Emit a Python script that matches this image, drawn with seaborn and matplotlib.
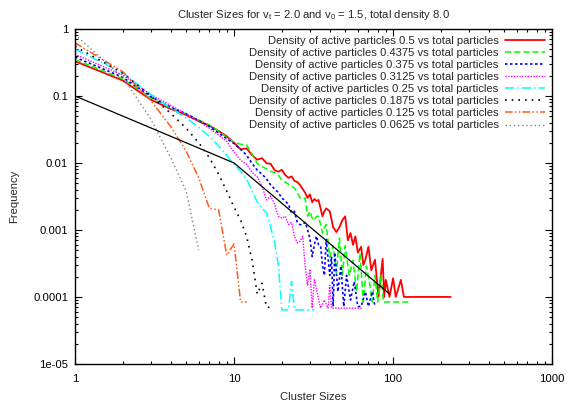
import matplotlib
matplotlib.use('Agg')
import matplotlib.pyplot as plt
import seaborn as sns
from matplotlib.ticker import FixedLocator, FixedFormatter, LogLocator, NullFormatter

# cluster size distributions, one per density of active particles
red_x = [1, 2, 3, 4, 5, 6, 7, 8, 9, 10,
         11, 12, 13, 14, 15, 16, 17, 18, 19, 20,
         21, 22, 23, 24, 25, 26, 27, 28, 29, 30,
         31, 32, 33, 34, 35, 36, 37, 38, 40, 42,
         44, 46, 48, 50, 52, 54, 56, 58, 60, 63,
         65, 67, 70, 73, 77, 81, 86, 88, 90, 95,
         100, 104, 112, 117, 230]
red_y = [0.33, 0.17, 0.088, 0.064, 0.052, 0.042, 0.036, 0.03, 0.025, 0.02,
         0.016, 0.0165, 0.013, 0.0112, 0.0118, 0.0099, 0.0097, 0.0078, 0.0074, 0.0079,
         0.0066, 0.006, 0.0063, 0.0054, 0.0052, 0.0047, 0.0041, 0.0036, 0.003, 0.0034,
         0.0026, 0.0029, 0.0027, 0.0028, 0.0021, 0.0016, 0.0019, 0.0021, 0.0019, 0.0011,
         0.00093, 0.0011, 0.0014, 0.0016, 0.0007, 0.0009, 0.0006, 0.0008, 0.00046, 0.00056,
         0.0003, 0.00036, 0.00056, 0.00025, 0.00036, 0.0001, 0.00037, 0.0001, 0.00018, 0.0001,
         0.00019, 0.0001, 0.00018, 0.0001, 0.0001]

green_x = [1, 2, 3, 4, 5, 6, 7, 8, 9, 10,
           11, 12, 13, 14, 15, 16, 17, 18, 19, 20,
           21, 22, 23, 24, 25, 26, 27, 28, 29, 30,
           31, 32, 33, 34, 35, 36, 37, 38, 40, 42,
           44, 46, 48, 50, 53, 56, 59, 62, 65, 68,
           71, 74, 77, 80, 84, 87, 130]
green_y = [0.35, 0.18, 0.094, 0.066, 0.054, 0.044, 0.037, 0.03, 0.024, 0.0205,
           0.019, 0.0185, 0.0135, 0.0098, 0.0088, 0.0082, 0.0075, 0.0072, 0.0066, 0.0055,
           0.0052, 0.0048, 0.0045, 0.0042, 0.0036, 0.003, 0.0029, 0.003, 0.0016, 0.0019,
           0.0015, 0.0014, 0.0016, 0.0016, 0.0012, 0.0009, 0.0011, 0.0012, 0.00039, 0.00058,
           0.00023, 0.00075, 0.00021, 0.00058, 0.00021, 0.00035, 0.00012, 0.00045, 0.000084, 0.00029,
           0.00017, 0.000084, 0.00021, 0.000084, 0.00021, 0.000084, 0.000084]

blue_x = [1, 2, 3, 4, 5, 6, 7, 8, 9, 10,
          11, 12, 13, 14, 15, 16, 17, 18, 19, 20,
          21, 22, 23, 24, 25, 26, 27, 28, 29, 30,
          31, 32, 33, 34, 35, 36, 37, 38, 40, 41,
          42, 43, 45, 47, 49, 51, 54, 57, 60, 63,
          67, 70, 74, 77]
blue_y = [0.38, 0.19, 0.098, 0.068, 0.054, 0.043, 0.035, 0.028, 0.023, 0.0195,
          0.016, 0.013, 0.0098, 0.0078, 0.0068, 0.0058, 0.0047, 0.0041, 0.0036, 0.003,
          0.0027, 0.0024, 0.0018, 0.0019, 0.0013, 0.0012, 0.0012, 0.0013, 0.001, 0.00075,
          0.0004, 0.0006, 0.00081, 0.0006, 0.00058, 0.0003, 0.00021, 0.00072, 0.00021, 0.0004,
          0.000072, 0.00046, 0.00012, 0.00029, 0.000072, 0.00021, 0.00009, 0.00017, 0.000072, 0.000072,
          0.00012, 0.000072, 0.00012, 0.000072]

magenta_x = [1, 2, 3, 4, 5, 6, 7, 8, 9, 10,
             11, 12, 13, 14, 15, 16, 17, 18, 19, 20,
             21, 22, 23, 24, 25, 26, 27, 28, 29, 30,
             31, 32, 33, 35, 37, 39, 40, 41, 64]
magenta_y = [0.42, 0.205, 0.105, 0.072, 0.054, 0.042, 0.033, 0.026, 0.021, 0.0145,
             0.011, 0.0095, 0.0072, 0.0062, 0.0045, 0.0028, 0.0032, 0.0024, 0.0016, 0.0015,
             0.0016, 0.0012, 0.0013, 0.0008, 0.00064, 0.00068, 0.0008, 0.00029, 0.00015, 0.00026,
             0.000068, 0.00018, 0.00013, 0.000068, 0.00009, 0.000068, 0.00015, 0.000068, 0.000068]

cyan_x = [1, 2, 3, 4, 5, 6, 7, 8, 9, 10,
          11, 12, 13, 14, 15, 16, 17, 18, 19, 20,
          22, 23, 24, 32]
cyan_y = [0.5, 0.22, 0.105, 0.066, 0.047, 0.034, 0.025, 0.018, 0.013, 0.0095,
          0.0075, 0.0057, 0.0038, 0.0026, 0.0021, 0.0018, 0.0011, 0.00065, 0.0003, 0.000064,
          0.000064, 0.00017, 0.000064, 0.000064]

black_x = [1, 2, 3, 4, 5, 6, 7, 8, 9, 10,
           11, 12, 13, 14, 15, 16, 17]
black_y = [0.55, 0.22, 0.1, 0.055, 0.033, 0.02, 0.012, 0.0068, 0.0038, 0.0022,
           0.0014, 0.0008, 0.00035, 0.00011, 0.00016, 0.00007, 0.00007]

orange_x = [1, 2, 3, 4, 5, 6, 7, 8, 9, 10, 11, 12]
orange_y = [0.62, 0.23, 0.085, 0.035, 0.015, 0.006, 0.0021, 0.002, 0.00042, 0.00062, 0.000084, 0.000084]

gray_x = [1, 2, 3, 4, 5, 6]
gray_y = [0.82, 0.19, 0.045, 0.012, 0.0038, 0.0005]

# reference power law guide
guide_x = [1, 10, 95]
guide_y = [0.1, 0.01, 0.000111]

densities = ['0.5', '0.4375', '0.375', '0.3125', '0.25', '0.1875', '0.125', '0.0625']

sns.set_style('ticks')
plt.rcParams['font.family'] = ['Liberation Sans', 'DejaVu Sans']
plt.rcParams['mathtext.default'] = 'regular'

FS = 8.1

fig = plt.figure(figsize=(5.68, 4.08), dpi=100)
ax = fig.add_axes([0.132, 0.108, 0.840, 0.821])

series = [
    (red_x, red_y, '#ff0000', '-', 1.3),
    (green_x, green_y, '#00ff00', (0, (4, 2)), 1.1),
    (blue_x, blue_y, '#0000ff', (0, (1.5, 1.5)), 1.2),
    (magenta_x, magenta_y, '#ff00ff', (0, (1, 1)), 1.0),
    (cyan_x, cyan_y, '#00ffff', (0, (6, 2, 1, 2)), 1.1),
    (black_x, black_y, '#000000', (0, (1, 3)), 1.2),
    (orange_x, orange_y, '#ff5a1e', (0, (5, 1.5, 1, 1.5, 1, 1.5)), 1.1),
    (gray_x, gray_y, '#808080', (0, (1, 2)), 1.0),
]

for (xs, ys, c, ls, lw), d in zip(series, densities):
    sns.lineplot(x=xs, y=ys, ax=ax, color=c, linestyle=ls, linewidth=lw,
                 label=f'Density of active particles {d} vs total particles')

sns.lineplot(x=guide_x, y=guide_y, ax=ax, color='black', linewidth=0.9, legend=False)

ax.set_xscale('log')
ax.set_yscale('log')
ax.set_xlim(1, 1000)
ax.set_ylim(1e-5, 1)

ax.xaxis.set_major_locator(FixedLocator([1, 10, 100, 1000]))
ax.xaxis.set_major_formatter(FixedFormatter(['1', '10', '100', '1000']))
ax.yaxis.set_major_locator(FixedLocator([1e-5, 1e-4, 1e-3, 1e-2, 1e-1, 1]))
ax.yaxis.set_major_formatter(FixedFormatter(['1e-05', '0.0001', '0.001', '0.01', '0.1', '1']))
ax.xaxis.set_minor_locator(LogLocator(base=10, subs=range(2, 10)))
ax.yaxis.set_minor_locator(LogLocator(base=10, subs=range(2, 10)))
ax.xaxis.set_minor_formatter(NullFormatter())
ax.yaxis.set_minor_formatter(NullFormatter())

ax.tick_params(which='both', direction='in', top=True, right=True, labelsize=FS, colors='black')
ax.tick_params(which='major', length=5, width=0.8)
ax.tick_params(which='minor', length=2.5, width=0.8)
ax.tick_params(axis='x', pad=7)
ax.tick_params(axis='y', pad=5)
for s in ax.spines.values():
    s.set_color('black')
    s.set_linewidth(1.0)

ax.set_title('Cluster Sizes for v$_t$ = 2.0 and v$_0$ = 1.5, total density 8.0', fontsize=FS, pad=8)
ax.set_xlabel('Cluster Sizes', fontsize=FS, labelpad=6)
ax.set_ylabel('Frequency', fontsize=FS, labelpad=10)

ax.legend(loc='upper right', frameon=False, markerfirst=False, fontsize=FS,
          handlelength=3.5, handletextpad=0.6, labelspacing=0.18,
          borderaxespad=0.25)

plt.savefig('out.png', dpi=100)
plt.close()
